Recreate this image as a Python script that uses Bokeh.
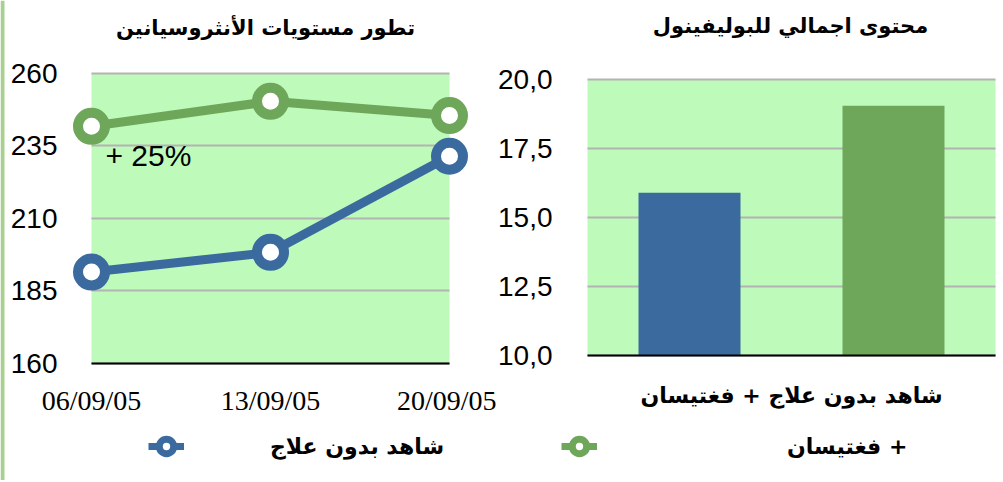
from bokeh.plotting import figure
from bokeh.models import (FixedTicker, Legend, LegendItem, BoxAnnotation, Label,
                          CustomJSTickFormatter, ColumnDataSource)
from bokeh.layouts import row
from bokeh.transform import dodge
from bokeh.embed import file_html
from bokeh.resources import INLINE

# ---------------- data ----------------
dates = ["06/09/05", "13/09/05", "20/09/05"]
control = [191.5, 198.3, 231.4]
fungitisan = [241.7, 250.3, 245.4]
line_ticks = [160, 185, 210, 235, 260]

bar_category = ["شاهد بدون علاج + فغتيسان"]
bar_control = [15.9]
bar_fungitisan = [19.05]
bar_ticks = [10, 12.5, 15, 17.5, 20]

title_left = "تطور مستويات الأنثروسيانين"
title_right = "محتوى اجمالي للبوليفينول"
legend_control = "شاهد بدون علاج"
legend_fungi = "فغتيسان +"
note_text = "+ 25%"

# ---------------- styles ----------------
BLUE = "#3B6B9E"
GREEN = "#6EA65A"
BG = "#BEFBBB"
GRID = "#B3B3B3"
FRAME_GREEN = "#A9D08E"
AR_FONT = "DejaVu Sans"
NUM_FONT = "Liberation Sans"
SERIF = "Liberation Serif"
H = 480


class PixelMap:
    """maps figure pixels (from the top-left) to data units"""
    def __init__(self, x0_px, x1_px, x0, x1, y0_px, y1_px, y0, y1, w, h):
        self.ux = (x1_px - x0_px) / (x1 - x0)
        self.uy = (y0_px - y1_px) / (y1 - y0)
        self.x_start = x0 - x0_px / self.ux
        self.x_end = self.x_start + w / self.ux
        self.y_end = y1 + y1_px / self.uy
        self.y_start = self.y_end - h / self.uy

    def x(self, px):
        return self.x_start + px / self.ux

    def y(self, py):
        return self.y_end - py / self.uy


def bare(p):
    p.outline_line_color = None
    p.background_fill_color = "white"
    p.border_fill_color = "white"
    p.xgrid.visible = False
    p.ygrid.grid_line_color = GRID
    p.ygrid.grid_line_width = 2
    for ax in (p.xaxis, p.yaxis):
        ax.major_tick_line_color = None
        ax.minor_tick_line_color = None
        ax.major_tick_out = 0
        ax.major_tick_in = 0
        ax.minor_tick_out = 0
        ax.minor_tick_in = 0
        ax.major_label_text_color = "black"
    p.yaxis.axis_line_color = None
    p.xaxis.axis_line_color = "black"
    p.xaxis.axis_line_width = 2


# ---------------- left: line chart ----------------
W1 = 496
n = len(dates)
m1 = PixelMap(91, 449, 0, n - 1, 363, 72.7, line_ticks[0], line_ticks[-1], W1, H)
xs = list(range(n))
src = ColumnDataSource(dict(x=xs, control=control, fungi=fungitisan))

p1 = figure(width=W1, height=H, title=None,
            x_range=(m1.x_start, m1.x_end), y_range=(m1.y_start, m1.y_end),
            output_backend="svg", toolbar_location=None,
            min_border=0)
bare(p1)

# slide frame edge on the left
p1.add_layout(BoxAnnotation(left=0, right=4, left_units="screen", right_units="screen",
                            fill_color=FRAME_GREEN, fill_alpha=1, line_color=None,
                            level="image"))

p1.add_layout(BoxAnnotation(left=0, right=n - 1, bottom=line_ticks[0],
                            top=line_ticks[-1], fill_color=BG, fill_alpha=1,
                            line_color=None, level="image"))
p1.ygrid.bounds = (line_ticks[0] - 10, line_ticks[-1] + 10)
p1.ygrid.cross_bounds = (0, n - 1)

p1.xaxis.fixed_location = line_ticks[0]
p1.xaxis.ticker = FixedTicker(ticks=xs)
p1.xaxis.major_label_overrides = {i: d for i, d in enumerate(dates)}
p1.xaxis.bounds = (0, n - 1)
p1.xaxis.major_label_standoff = 21
p1.xaxis.major_label_text_font = SERIF
p1.xaxis.major_label_text_font_size = "28px"

p1.yaxis.fixed_location = 0
p1.yaxis.ticker = FixedTicker(ticks=line_ticks)
p1.yaxis.bounds = (line_ticks[0], line_ticks[-1])
p1.yaxis.major_label_standoff = 34
p1.yaxis.major_label_text_font = NUM_FONT
p1.yaxis.major_label_text_font_size = "28px"

p1.line("x", "control", source=src, line_width=9, line_color=BLUE)
p1.line("x", "fungi", source=src, line_width=9, line_color=GREEN)
p1.scatter("x", "control", source=src, size=27, line_width=10,
           line_color=BLUE, fill_color="white")
p1.scatter("x", "fungi", source=src, size=27, line_width=10,
           line_color=GREEN, fill_color="white")

p1.add_layout(Label(x=0.078, y=231.6, text=note_text, text_font=NUM_FONT,
                    text_font_size="30px", text_baseline="middle",
                    text_align="left", text_color="black"))

p1.add_layout(Label(x=m1.x(265), y=m1.y(27), text=title_left, text_font=AR_FONT,
                    text_font_size="21px", text_font_style="bold",
                    text_align="center", text_baseline="middle", text_color="black"))

lg_line1 = p1.line("x", "control", source=src, line_width=7, line_color=BLUE, visible=False)
lg_dot1 = p1.scatter("x", "control", source=src, size=18, line_width=7,
                     line_color=BLUE, fill_color="white", visible=False)
legend1 = Legend(items=[LegendItem(label=legend_control, renderers=[lg_line1, lg_dot1])],
                 location=(148, 12), glyph_width=36, glyph_height=44,
                 label_standoff=86, padding=0, margin=0, spacing=0,
                 border_line_color=None, background_fill_alpha=0,
                 label_text_font=AR_FONT, label_text_font_size="22px",
                 label_text_font_style="bold", label_text_color="black")
p1.add_layout(legend1)

# ---------------- right: bar chart ----------------
W2 = 507
nb = len(bar_category)
m2 = PixelMap(91, 499, 0, nb, 355, 79, bar_ticks[0], bar_ticks[-1], W2, H)
pos = [i + 0.5 for i in range(nb)]
bsrc = ColumnDataSource(dict(pos=pos, control=bar_control, fungi=bar_fungitisan))

p2 = figure(width=W2, height=H, title=None,
            x_range=(m2.x_start, m2.x_end), y_range=(m2.y_start, m2.y_end),
            output_backend="svg", toolbar_location=None,
            min_border=0)
bare(p2)

p2.add_layout(BoxAnnotation(left=0, right=nb, bottom=bar_ticks[0], top=bar_ticks[-1],
                            fill_color=BG, fill_alpha=1, line_color=None, level="image"))
p2.ygrid.bounds = (bar_ticks[0] - 5, bar_ticks[-1] + 5)
p2.ygrid.cross_bounds = (0, nb)

p2.vbar(x=dodge("pos", -0.25), top="control", bottom=bar_ticks[0],
        width=0.25, source=bsrc, fill_color=BLUE, line_color=None)
p2.vbar(x=dodge("pos", 0.25), top="fungi", bottom=bar_ticks[0],
        width=0.25, source=bsrc, fill_color=GREEN, line_color=None)

p2.xaxis.fixed_location = bar_ticks[0]
p2.xaxis.ticker = FixedTicker(ticks=pos)
p2.xaxis.major_label_overrides = {pv: c for pv, c in zip(pos, bar_category)}
p2.xaxis.bounds = (0, nb)
p2.xaxis.major_label_standoff = 27
p2.xaxis.major_label_text_font = AR_FONT
p2.xaxis.major_label_text_font_size = "22px"
p2.xaxis.major_label_text_font_style = "bold"

p2.yaxis.fixed_location = 0
p2.yaxis.ticker = FixedTicker(ticks=bar_ticks)
p2.yaxis.bounds = (bar_ticks[0], bar_ticks[-1])
p2.yaxis.formatter = CustomJSTickFormatter(code="return tick.toFixed(1).replace('.', ',');")
p2.yaxis.major_label_standoff = 35
p2.yaxis.major_label_text_font = NUM_FONT
p2.yaxis.major_label_text_font_size = "28px"

p2.add_layout(Label(x=m2.x(294), y=m2.y(25), text=title_right, text_font=AR_FONT,
                    text_font_size="21px", text_font_style="bold",
                    text_align="center", text_baseline="middle", text_color="black"))

lg_line2 = p2.line("pos", "control", source=bsrc, line_width=7, line_color=GREEN, visible=False)
lg_dot2 = p2.scatter("pos", "control", source=bsrc, size=18, line_width=7,
                     line_color=GREEN, fill_color="white", visible=False)
legend2 = Legend(items=[LegendItem(label=legend_fungi, renderers=[lg_line2, lg_dot2])],
                 location=(65, 12), glyph_width=36, glyph_height=44,
                 label_standoff=190, padding=0, margin=0, spacing=0,
                 border_line_color=None, background_fill_alpha=0,
                 label_text_font=AR_FONT, label_text_font_size="22px",
                 label_text_font_style="bold", label_text_color="black")
p2.add_layout(legend2)

layout = row(p1, p2)
open("out.html", "w").write(file_html(layout, INLINE))
